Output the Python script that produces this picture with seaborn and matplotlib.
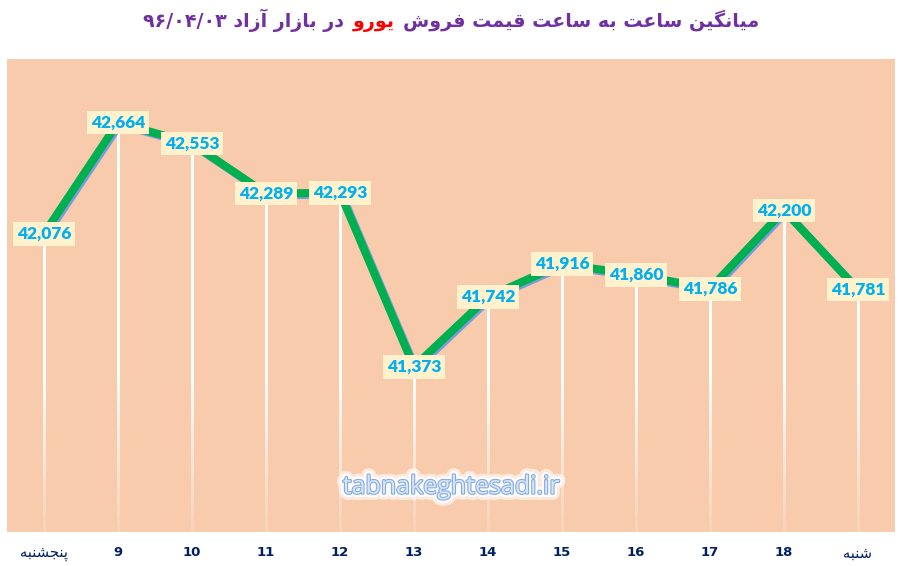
import matplotlib
matplotlib.use("Agg")
import matplotlib.pyplot as plt
import seaborn as sns
import numpy as np
import pandas as pd
from matplotlib import patheffects as pe
from matplotlib.offsetbox import TextArea, HPacker, AnchoredOffsetbox

# ---------------- data ----------------
categories = ["پنجشنبه", "9", "10", "11", "12", "13", "14", "15", "16", "17", "18", "شنبه"]
prices = [42076, 42664, 42553, 42289, 42293, 41373, 41742, 41916, 41860, 41786, 42200, 41781]
title_right = "میانگین ساعت به ساعت قیمت فروش"
title_red = "یورو"
title_left = "در بازار آزاد ۹۶/۰۴/۰۳"
watermark = "tabnakeghtesadi.ir"

# ---------------- minimal Arabic/Persian shaping ----------------
FORMS = {
    'ا': ('\uFE8D', '\uFE8E', None, None),
    'آ': ('\uFE81', '\uFE82', None, None),
    'ب': ('\uFE8F', '\uFE90', '\uFE91', '\uFE92'),
    'پ': ('\uFB56', '\uFB57', '\uFB58', '\uFB59'),
    'ت': ('\uFE95', '\uFE96', '\uFE97', '\uFE98'),
    'ج': ('\uFE9D', '\uFE9E', '\uFE9F', '\uFEA0'),
    'د': ('\uFEA9', '\uFEAA', None, None),
    'ر': ('\uFEAD', '\uFEAE', None, None),
    'ز': ('\uFEAF', '\uFEB0', None, None),
    'س': ('\uFEB1', '\uFEB2', '\uFEB3', '\uFEB4'),
    'ش': ('\uFEB5', '\uFEB6', '\uFEB7', '\uFEB8'),
    'ع': ('\uFEC9', '\uFECA', '\uFECB', '\uFECC'),
    'ف': ('\uFED1', '\uFED2', '\uFED3', '\uFED4'),
    'ق': ('\uFED5', '\uFED6', '\uFED7', '\uFED8'),
    'گ': ('\uFB92', '\uFB93', '\uFB94', '\uFB95'),
    'م': ('\uFEE1', '\uFEE2', '\uFEE3', '\uFEE4'),
    'ن': ('\uFEE5', '\uFEE6', '\uFEE7', '\uFEE8'),
    'ه': ('\uFEE9', '\uFEEA', '\uFEEB', '\uFEEC'),
    'و': ('\uFEED', '\uFEEE', None, None),
    'ی': ('\uFBFC', '\uFBFD', '\uFBFE', '\uFBFF'),
}


def shape_word(word):
    out = []
    n = len(word)
    for i, ch in enumerate(word):
        f = FORMS.get(ch)
        if f is None:
            out.append(ch)
            continue
        prev_joins = i > 0 and word[i - 1] in FORMS and FORMS[word[i - 1]][2] is not None
        next_joins = i < n - 1 and word[i + 1] in FORMS and f[2] is not None
        if prev_joins and next_joins:
            out.append(f[3])
        elif prev_joins:
            out.append(f[1])
        elif next_joins:
            out.append(f[2])
        else:
            out.append(f[0])
    return ''.join(out)


def visual(text):
    vis = []
    for w in text.split(' '):
        if any(c in FORMS for c in w):
            vis.append(shape_word(w)[::-1])
        else:
            vis.append(w)
    return ' '.join(reversed(vis))


# ---------------- figure ----------------
sns.set_theme(style="white")
plt.rcParams['font.family'] = ['DejaVu Sans']

fig = plt.figure(figsize=(9.02, 5.66), dpi=100)
fig.patch.set_facecolor("white")
ax = fig.add_axes([7 / 902, 34 / 566, 888 / 902, 473 / 566])
ax.set_facecolor("#F8CBAD")

pos = np.arange(len(prices))
df = pd.DataFrame({"pos": pos, "price": prices})

ymin, ymax = 40500, 43000
fade_top = 41300

# white drop lines, solid at top and fading toward the bottom
grad = np.ones((100, 1, 4))
grad[:, 0, 3] = np.linspace(0.95, 0.12, 100)
half_w = 0.0145
for x, v in zip(pos, prices):
    top = max(v, fade_top)
    if v > fade_top:
        ax.plot([x, x], [v, fade_top], color="white", lw=2.2, alpha=0.95, zorder=1,
                solid_capstyle="butt")
        ax.imshow(grad, extent=[x - half_w, x + half_w, ymin, fade_top],
                  aspect="auto", origin="upper", zorder=1, interpolation="bilinear")
    else:
        ax.imshow(grad, extent=[x - half_w, x + half_w, ymin, v],
                  aspect="auto", origin="upper", zorder=1, interpolation="bilinear")

sns.lineplot(data=df, x="pos", y="price", ax=ax, color="#00B050", lw=5.8,
             zorder=2, legend=False,
             path_effects=[pe.SimpleLineShadow(offset=(1.3, -1.3), shadow_color="#7B9CDA", alpha=1.0),
                           pe.Normal()])

for x, v in zip(pos, prices):
    ax.text(x, v, f"{v:,}", ha="center", va="center", fontsize=12.5,
            fontweight="heavy", color="#00B0F0", family="Lato", zorder=4,
            bbox=dict(boxstyle="square,pad=0.22", fc="#FFF2CC", ec="none"))

ax.set_xlim(-0.5, len(prices) - 0.5)
ax.set_ylim(ymin, ymax)
ax.set_yticks([])
ax.set_xticks(pos)
labels = [visual(c) for c in categories]
ax.set_xticklabels(labels)
for t, c in zip(ax.get_xticklabels(), categories):
    t.set_color("#002060")
    if c.isdigit():
        t.set_fontweight("bold")
        t.set_fontsize(9.5)
    else:
        t.set_fontsize(10.5)
ax.tick_params(axis="x", length=0, pad=10)
ax.set_xlabel("")
ax.set_ylabel("")
for s in ax.spines.values():
    s.set_visible(False)

# watermark
ax.text(0.5, 0.095, watermark, transform=ax.transAxes, ha="center", va="center",
        fontsize=18, family="Open Sans", color="#D6E5F7", zorder=3,
        path_effects=[pe.withStroke(linewidth=9, foreground=(1, 1, 1, 0.6)),
                      pe.withStroke(linewidth=5, foreground=(1, 1, 1, 0.9)),
                      pe.withStroke(linewidth=1.6, foreground="#86ACDF")])

# title with red word
tprops = dict(fontsize=13.7, fontweight="bold", family="DejaVu Sans")
ta_left = TextArea(visual(title_left), textprops=dict(color="#7030A0", **tprops))
ta_red = TextArea(visual(title_red), textprops=dict(color="#FF0000", **tprops))
ta_right = TextArea(visual(title_right), textprops=dict(color="#7030A0", **tprops))
box = HPacker(children=[ta_left, ta_red, ta_right], align="baseline", pad=0, sep=6)
anch = AnchoredOffsetbox(loc="center", child=box, frameon=False,
                         bbox_to_anchor=(0.5, 1 - 20 / 566),
                         bbox_transform=fig.transFigure, borderpad=0, pad=0)
fig.add_artist(anch)

fig.savefig("out.png", dpi=100, facecolor="white")
